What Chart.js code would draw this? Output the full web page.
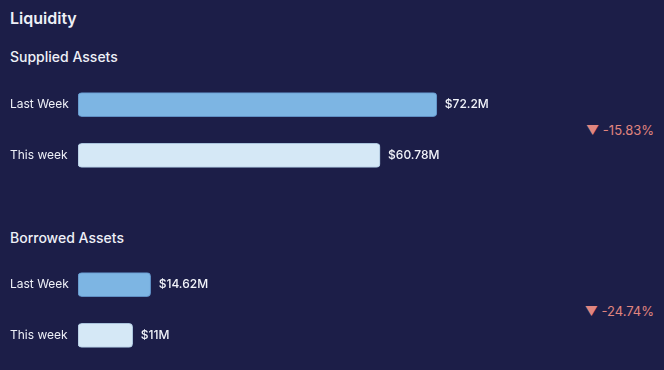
<!DOCTYPE html>
<html>
<head>
<meta charset="utf-8">
<script src="https://cdn.jsdelivr.net/npm/chart.js@4"></script>
<style>
  html, body { margin: 0; padding: 0; }
  body { width: 664px; height: 370px; background: #1c1e48; position: relative; overflow: hidden; font-family: Inter, "Open Sans", sans-serif; color: #eef0f7; }
  .title { position: absolute; left: 10px; top: 8px; font-size: 16px; font-weight: 600; }
  .section { position: absolute; left: 10px; font-size: 14px; font-weight: 500; }
  .change { position: absolute; right: 10px; font-size: 13px; color: #e0857f; }
  canvas { position: absolute; left: 0; display: block; }
</style>
</head>
<body>
<div class="title">Liquidity</div>
<div class="section" style="top:48px">Supplied Assets</div>
<div class="section" style="top:229px">Borrowed Assets</div>
<div class="change" id="changeSupplied" style="top:122px"></div>
<div class="change" id="changeBorrowed" style="top:303px"></div>
<canvas id="suppliedChart" width="664" height="122" style="top:69px"></canvas>
<canvas id="borrowedChart" width="664" height="122" style="top:249px"></canvas>
<script>
const periods = ["Last Week", "This week"];
const suppliedValues = [72.2, 60.78];
const borrowedValues = [14.62, 11];
const suppliedLabels = ["$72.2M", "$60.78M"];
const borrowedLabels = ["$14.62M", "$11M"];
const suppliedChange = "-15.83%";
const borrowedChange = "-24.74%";

const barColors = ["#7db5e3", "#d5e8f6"];
const barBorders = ["#5f8fc4", "#a9c3dc"];

document.getElementById("changeSupplied").textContent = "\u25BC " + suppliedChange;
document.getElementById("changeBorrowed").textContent = "\u25BC " + borrowedChange;

const valueLabelPlugin = {
  id: "valueLabels",
  afterDatasetsDraw(chart, _args, opts) {
    const ctx = chart.ctx;
    const meta = chart.getDatasetMeta(0);
    ctx.save();
    ctx.fillStyle = "#f2f4fa";
    ctx.font = "500 12px Inter, 'Open Sans', sans-serif";
    ctx.textBaseline = "middle";
    ctx.textAlign = "left";
    meta.data.forEach((bar, i) => {
      ctx.fillText(opts.labels[i], bar.x + 8, bar.y);
    });
    ctx.restore();
  },
};

function makeChart(canvasId, values, labels) {
  return new Chart(document.getElementById(canvasId), {
    type: "bar",
    data: {
      labels: periods,
      datasets: [
        {
          data: values,
          backgroundColor: barColors,
          borderColor: barBorders,
          borderWidth: 1,
          borderRadius: 4,
          borderSkipped: false,
          barThickness: 24,
        },
      ],
    },
    options: {
      indexAxis: "y",
      responsive: false,
      animation: false,
      layout: { padding: { left: 10, right: 89, top: 0, bottom: 0 } },
      plugins: {
        legend: { display: false },
        tooltip: { enabled: false },
        valueLabels: { labels: labels },
      },
      scales: {
        x: { display: false, min: 0, max: 100 },
        y: {
          grid: { display: false },
          border: { display: false },
          afterFit(scale) { scale.width = 68; },
          ticks: {
            crossAlign: "far",
            color: "#eef0f7",
            font: { family: "Inter, 'Open Sans', sans-serif", size: 12 },
          },
        },
      },
    },
    plugins: [valueLabelPlugin],
  });
}

makeChart("suppliedChart", suppliedValues, suppliedLabels);
makeChart("borrowedChart", borrowedValues, borrowedLabels);
</script>
</body>
</html>
